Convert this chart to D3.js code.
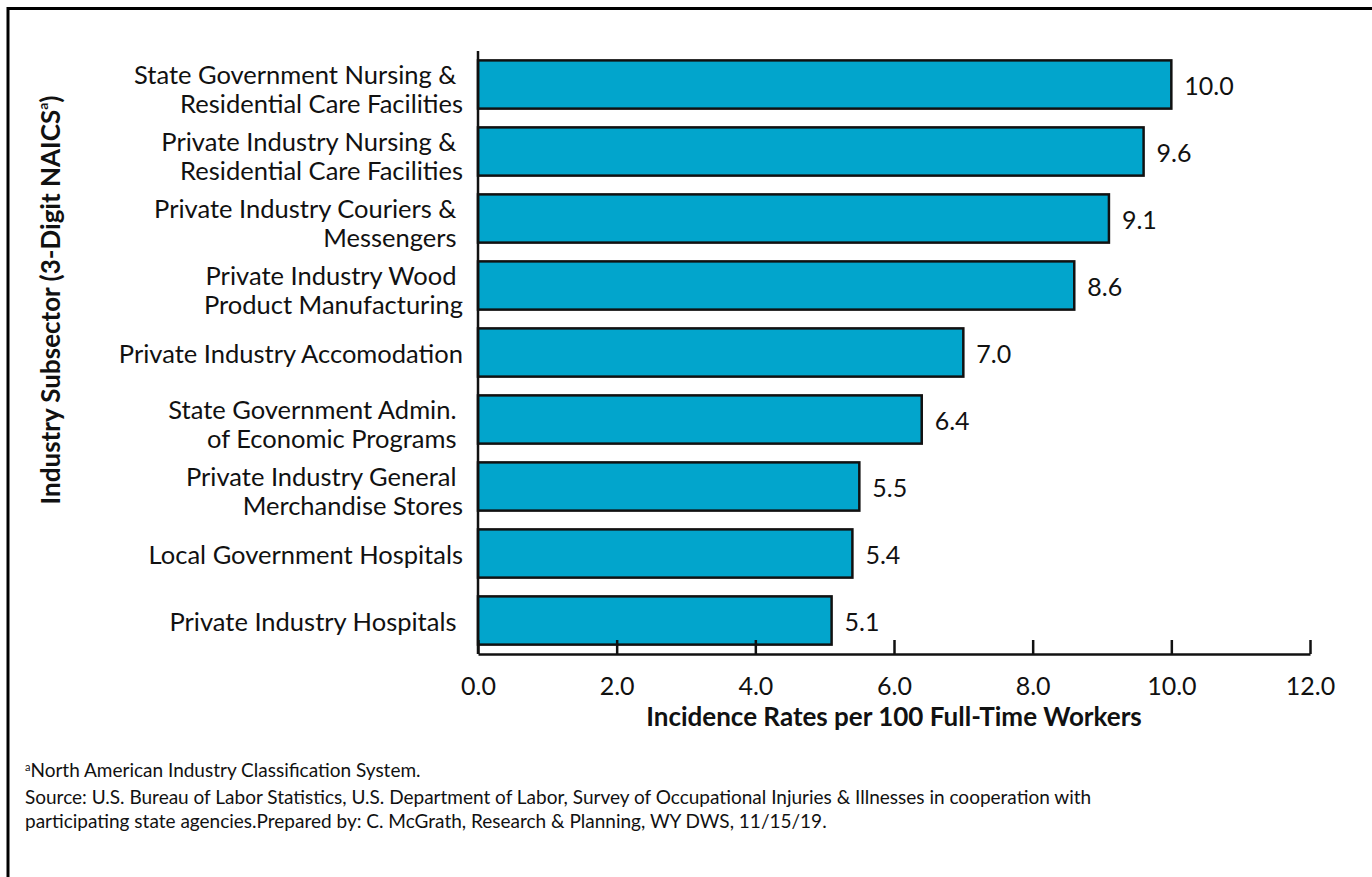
<!DOCTYPE html>
<html>
<head>
<meta charset="utf-8">
<script src="https://cdn.jsdelivr.net/npm/d3@7"></script>
<style>
  body { margin: 0; background: #fff; }
  svg { display: block; font-family: Lato, "Open Sans", sans-serif; }
  text { white-space: pre; }
</style>
</head>
<body>
<svg id="chart"></svg>
<script>
// industry subsectors (two-line labels split with "\n")
const industries = [
    "State Government Nursing & \nResidential Care Facilities",
    "Private Industry Nursing & \nResidential Care Facilities",
    "Private Industry Couriers & \nMessengers ",
    "Private Industry Wood \nProduct Manufacturing",
    "Private Industry Accomodation",
    "State Government Admin. \nof Economic Programs ",
    "Private Industry General \nMerchandise Stores",
    "Local Government Hospitals",
    "Private Industry Hospitals "
];
const rates = [10.0, 9.6, 9.1, 8.6, 7.0, 6.4, 5.5, 5.4, 5.1];
const xTicks = [0, 2, 4, 6, 8, 10, 12];
const footnotes = [
    "North American Industry Classification System.",
    "Source: U.S. Bureau of Labor Statistics, U.S. Department of Labor, Survey of Occupational Injuries & Illnesses in cooperation with",
    "participating state agencies.Prepared by: C. McGrath, Research & Planning, WY DWS, 11/15/19."
];

let width = 1372, height = 877;
var margin = {top: 51, right: 62, bottom: 223, left: 478};

let svg = d3.select("#chart")
    .attr("width", width)
    .attr("height", height);

// frame (top and left edge only visible)
svg.append("path")
    .attr("d", "M8," + height + " V8.5 H" + width)
    .attr("fill", "none")
    .attr("stroke", "#000")
    .attr("stroke-width", 3);

let data = industries.map((d, i) => ({name: d, value: rates[i]}));

const xScale = d3.scaleLinear()
    .domain([0, 12])
    .range([margin.left, width - margin.right]);

const yScale = d3.scaleBand()
    .domain(industries)
    .range([margin.top, height - margin.bottom])
    .paddingInner(0.28)
    .paddingOuter(0.14);

const baseY = height - margin.bottom;

// bars
svg.append("g")
    .selectAll("rect")
    .data(data)
    .enter()
    .append("rect")
        .attr("x", xScale(0))
        .attr("y", d => yScale(d.name))
        .attr("width", d => xScale(d.value) - xScale(0))
        .attr("height", yScale.bandwidth())
        .attr("fill", "#02A5CC")
        .attr("stroke", "#111")
        .attr("stroke-width", 2.5);

// value labels
svg.append("g")
    .selectAll("text")
    .data(data)
    .enter()
    .append("text")
        .attr("x", d => xScale(d.value) + 13)
        .attr("y", d => yScale(d.name) + yScale.bandwidth() / 2)
        .attr("dominant-baseline", "central")
        .style("font-size", "25px")
        .attr("fill", "#111")
        .text(d => d.value.toFixed(1));

// x axis: ticks pointing up into the plot
let xAxis = svg.append("g")
    .attr("transform", "translate(0," + baseY + ")")
    .call(d3.axisBottom(xScale).tickValues(xTicks).tickSize(-14).tickSizeOuter(0).tickFormat(d3.format(".1f")));
xAxis.select(".domain").attr("stroke", "#111").attr("stroke-width", 2.5);
xAxis.selectAll(".tick line").attr("stroke", "#111").attr("stroke-width", 2.5);
xAxis.selectAll(".tick text")
    .attr("y", 32)
    .attr("dy", "0.35em")
    .style("font-size", "25px")
    .style("font-family", "Lato, sans-serif")
    .attr("fill", "#111");

// y axis line
svg.append("line")
    .attr("x1", xScale(0)).attr("x2", xScale(0))
    .attr("y1", margin.top).attr("y2", baseY)
    .attr("stroke", "#111")
    .attr("stroke-width", 2.5);

// category labels
let labels = svg.append("g")
    .selectAll("text")
    .data(data)
    .enter()
    .append("text")
        .attr("text-anchor", "end")
        .style("font-size", "25.5px")
        .attr("fill", "#111");

labels.each(function(d) {
    let lines = d.name.split("\n");
    let cy = yScale(d.name) + yScale.bandwidth() / 2;
    let offsets = lines.length == 1 ? [0] : [-11, 18];
    lines.forEach((line, i) => {
        d3.select(this).append("tspan")
            .attr("x", 463)
            .attr("y", cy + offsets[i])
            .attr("dominant-baseline", "central")
            .text(line);
    });
});

// axis titles
svg.append("text")
    .attr("x", (xScale(0) + xScale(12)) / 2)
    .attr("y", 716)
    .attr("text-anchor", "middle")
    .attr("dominant-baseline", "central")
    .style("font-size", "26px")
    .style("font-weight", "bold")
    .attr("fill", "#111")
    .text("Incidence Rates per 100 Full-Time Workers");

let yTitle = svg.append("text")
    .attr("transform", "translate(50,300) rotate(-90)")
    .attr("text-anchor", "middle")
    .attr("dominant-baseline", "central")
    .style("font-size", "26px")
    .style("font-weight", "bold")
    .attr("fill", "#111");
yTitle.append("tspan").text("Industry Subsector (3-Digit NAICS");
yTitle.append("tspan").attr("dy", -8).style("font-size", "14px").text("a");
yTitle.append("tspan").attr("dy", 8).text(")");

// footnotes
let note = svg.append("g")
    .style("font-size", "19px")
    .attr("fill", "#111");
let first = note.append("text").attr("x", 25).attr("y", 777);
first.append("tspan").attr("dy", -6).style("font-size", "11px").text("a");
first.append("tspan").attr("dy", 6).text(footnotes[0]);
note.append("text").attr("x", 25).attr("y", 804).text(footnotes[1]);
note.append("text").attr("x", 25).attr("y", 828).text(footnotes[2]);
</script>
</body>
</html>
